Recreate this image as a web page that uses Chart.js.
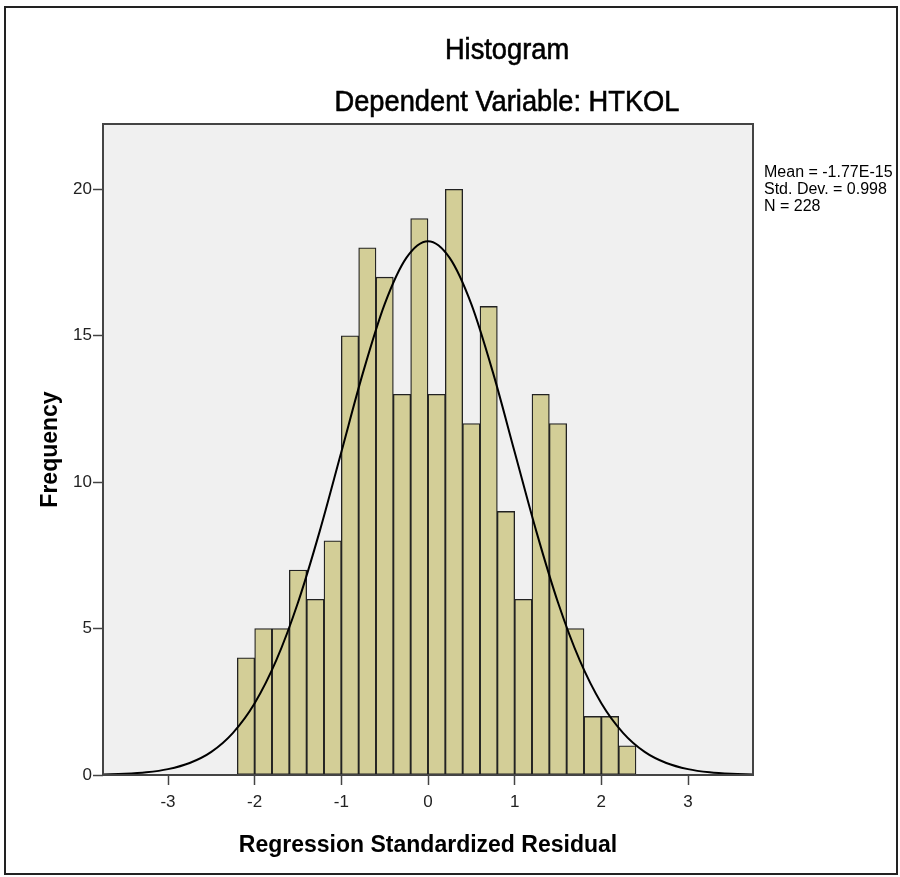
<!DOCTYPE html>
<html>
<head>
<meta charset="utf-8">
<title>Histogram</title>
<script src="https://cdn.jsdelivr.net/npm/chart.js@4.4.0/dist/chart.umd.min.js"></script>
<style>
  html, body { margin: 0; padding: 0; background: #fff; }
  #wrap { position: relative; width: 900px; height: 877px; overflow: hidden; }
  canvas { position: absolute; left: 0; top: 0; }
  #frame { position: absolute; left: 4px; top: 6px; width: 894px; height: 869px; box-sizing: border-box; border: 2px solid #222; pointer-events: none; }
  .title { position: absolute; left: 207px; width: 600px; text-align: center; font-family: "Liberation Sans", Arial, sans-serif; font-size: 29px; line-height: 29px; color: #000; transform: scaleX(0.94); -webkit-text-stroke: 0.6px #000; }
  #stats { position: absolute; left: 764px; top: 163px; font-family: "Liberation Sans", Arial, sans-serif; font-size: 16px; line-height: 17px; color: #000; white-space: pre; }
</style>
</head>
<body>
<div id="wrap">
  <canvas id="chart" width="900" height="877"></canvas>
  <div class="title" style="top:35px">Histogram</div>
  <div class="title" style="top:87px">Dependent Variable: HTKOL</div>
  <div id="stats">Mean = -1.77E-15
Std. Dev. = 0.998
N = 228</div>
  <div id="frame"></div>
</div>
<script>
// histogram bins (width 0.2), centres and counts
const binCenters = [-2.1, -1.9, -1.7, -1.5, -1.3, -1.1, -0.9, -0.7, -0.5, -0.3, -0.1,
                    0.1, 0.3, 0.5, 0.7, 0.9, 1.1, 1.3, 1.5, 1.7, 1.9, 2.1, 2.3]
const frequencies = [4, 5, 5, 7, 6, 8, 15, 18, 17, 13, 19,
                     13, 20, 12, 16, 9, 6, 13, 12, 5, 2, 2, 1]

// normal curve
const curveX = [-3.75, -3.5, -3.25, -3, -2.75, -2.5, -2.25, -2, -1.75, -1.5, -1.25, -1, -0.75, -0.5, -0.25,
                0, 0.25, 0.5, 0.75, 1, 1.25, 1.5, 1.75, 2, 2.25, 2.5, 2.75, 3, 3.25, 3.5, 3.75]
const curveY = [0.016, 0.039, 0.091, 0.20, 0.41, 0.79, 1.44, 2.45, 3.92, 5.89, 8.32, 11.03, 13.74, 16.08, 17.66,
                18.23, 17.66, 16.08, 13.74, 11.03, 8.32, 5.89, 3.92, 2.45, 1.44, 0.79, 0.41, 0.20, 0.091, 0.039, 0.016]

const xTicks = [-3, -2, -1, 0, 1, 2, 3]
const yTicks = [0, 5, 10, 15, 20]

const plotFrame = {
    id: 'plotFrame',
    beforeDraw(chart) {
        const { ctx, chartArea: a } = chart
        ctx.save()
        ctx.fillStyle = '#f0f0f0'
        ctx.fillRect(a.left, a.top, a.right - a.left, a.bottom - a.top)
        ctx.restore()
    },
    afterDraw(chart) {
        const { ctx, chartArea: a } = chart
        ctx.save()
        ctx.strokeStyle = '#444'
        ctx.lineWidth = 2
        ctx.strokeRect(a.left, a.top, a.right - a.left, a.bottom - a.top)
        ctx.restore()
    }
}

const tickFont = { family: '"Liberation Sans", Arial, sans-serif', size: 17 }
const axisTitleFont = { family: '"Liberation Sans", Arial, sans-serif', size: 23, weight: 'bold' }

new Chart(document.getElementById('chart'), {
    type: 'bar',
    data: {
        datasets: [
            {
                type: 'line',
                data: curveX.map((x, i) => ({ x: x, y: curveY[i] })),
                borderColor: '#000',
                borderWidth: 2,
                pointRadius: 0,
                cubicInterpolationMode: 'monotone',
                fill: false,
                order: 1
            },
            {
                type: 'bar',
                data: binCenters.map((x, i) => ({ x: x, y: frequencies[i] })),
                backgroundColor: '#d3ce97',
                borderColor: '#222',
                borderWidth: 1.3,
                borderSkipped: false,
                barPercentage: 1,
                categoryPercentage: 1,
                order: 2
            }
        ]
    },
    options: {
        responsive: false,
        animation: false,
        layout: { padding: { top: 124, right: 147, left: 0, bottom: 0 } },
        plugins: {
            legend: { display: false },
            tooltip: { enabled: false }
        },
        scales: {
            x: {
                type: 'linear',
                offset: false,
                min: -3.75,
                max: 3.75,
                afterBuildTicks: (s) => { s.ticks = xTicks.map(v => ({ value: v })) },
                afterFit: (s) => { s.height = 102 },
                ticks: { font: tickFont, color: '#222', padding: 7, maxRotation: 0 },
                grid: { offset: false, drawOnChartArea: false, drawTicks: true, tickLength: 10, tickColor: '#444', tickWidth: 1.5 },
                border: { display: false },
                title: { display: true, text: 'Regression Standardized Residual', font: axisTitleFont, color: '#000', padding: { top: 0, bottom: 18 } }
            },
            y: {
                min: 0,
                max: 22.23,
                afterBuildTicks: (s) => { s.ticks = yTicks.map(v => ({ value: v })) },
                afterFit: (s) => { s.width = 103 },
                ticks: { font: tickFont, color: '#222', padding: 1 },
                grid: { drawOnChartArea: false, drawTicks: true, tickLength: 10, tickColor: '#444', tickWidth: 1.5 },
                border: { display: false },
                title: { display: true, text: 'Frequency', font: axisTitleFont, color: '#000', padding: { top: 37, bottom: 0 } }
            }
        }
    },
    plugins: [plotFrame]
})
</script>
</body>
</html>
